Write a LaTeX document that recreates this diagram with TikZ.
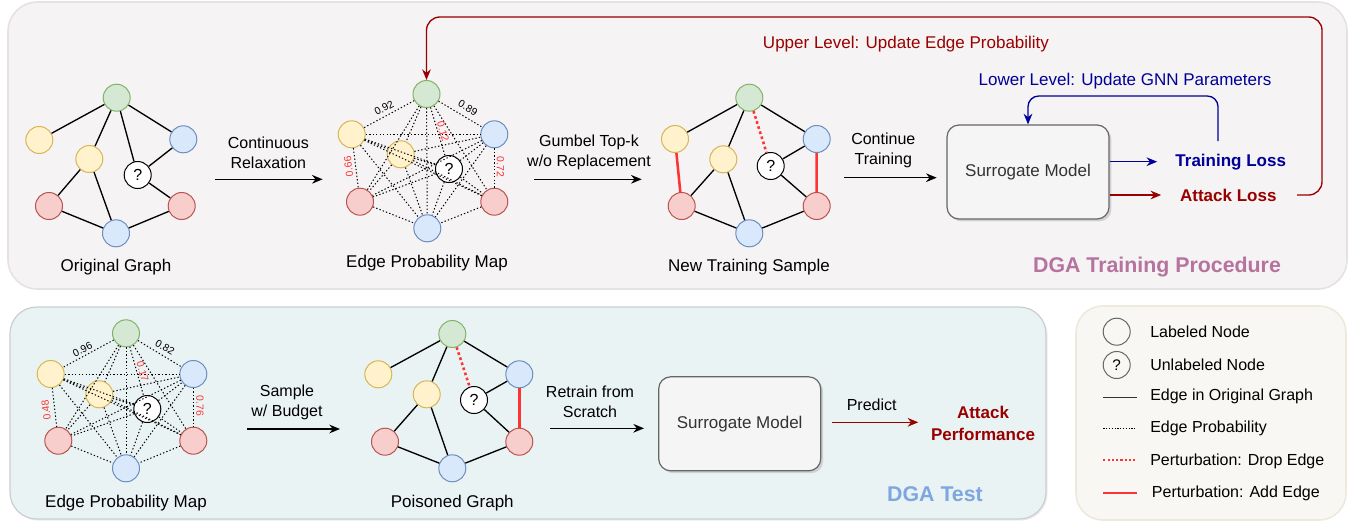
\documentclass[tikz,border=0pt]{standalone}
\usepackage{fontspec}
\setmainfont{Liberation Sans}
\usetikzlibrary{arrows.meta,shadows}
\definecolor{gfill}{HTML}{D5E8D4}\definecolor{gdraw}{HTML}{82B366}
\definecolor{yfill}{HTML}{FFF2CC}\definecolor{ydraw}{HTML}{D6B656}
\definecolor{rfill}{HTML}{F8CECC}\definecolor{rdraw}{HTML}{B85450}
\definecolor{bfill}{HTML}{DAE8FC}\definecolor{bdraw}{HTML}{6C8EBF}
\definecolor{darkred}{HTML}{990000}\definecolor{darkblue}{HTML}{000099}
\definecolor{pertred}{HTML}{FF3333}
\definecolor{topbg}{HTML}{F5F3F4}\definecolor{topbd}{HTML}{E6E1E4}
\definecolor{botbg}{HTML}{EAF3F4}\definecolor{botbd}{HTML}{C9CFD0}
\definecolor{legbg}{HTML}{F8F7F3}\definecolor{legbd}{HTML}{EEE9DC}
\definecolor{boxbg}{HTML}{F5F5F5}\definecolor{boxbd}{HTML}{666666}
\definecolor{dgapink}{HTML}{B5739D}\definecolor{dgablue}{HTML}{7EA6E0}
\definecolor{txtgrey}{HTML}{333333}
\begin{document}
\begin{tikzpicture}[x=0.75pt,y=-0.75pt,
  vtx/.style={circle,minimum size=20.25pt,inner sep=0pt,line width=0.75pt},
  gv/.style={vtx,fill=gfill,draw=gdraw},
  yv/.style={vtx,fill=yfill,draw=ydraw},
  rv/.style={vtx,fill=rfill,draw=rdraw},
  bv/.style={vtx,fill=bfill,draw=bdraw},
  qv/.style={vtx,fill=white,draw=black,font=\fontsize{12}{14}\selectfont},
  oe/.style={line width=1pt,black},
  probedge/.style={line width=0.75pt,dash pattern=on 1pt off 1.6pt},
  adde/.style={line width=1.9pt,pertred},
  drope/.style={line width=1.9pt,pertred,dash pattern=on 2pt off 2pt},
  arr/.style={line width=1pt,-{Stealth[length=8pt,width=6.5pt]}},
  redarr/.style={line width=1pt,darkred,-{Stealth[length=8pt,width=6.5pt]}},
  bluearr/.style={line width=1pt,darkblue,-{Stealth[length=8pt,width=6.5pt]}},
  txt/.style={font=\fontsize{12}{15}\selectfont,align=center},
  lbl/.style={font=\fontsize{12.75}{15}\selectfont},
  legt/.style={font=\fontsize{12}{14}\selectfont,anchor=west,inner sep=0pt},
  prob/.style={font=\fontsize{7.8}{9}\selectfont,inner sep=0.5pt},
  sbox/.style={rectangle,rounded corners=9pt,fill=boxbg,draw=boxbd,line width=0.9pt,
    text=txtgrey,font=\fontsize{12.75}{15}\selectfont,minimum width=121.5pt,minimum height=70.5pt,
    drop shadow={shadow xshift=1.8pt,shadow yshift=-1.8pt,fill=black!30}},
  lossb/.style={font=\fontsize{12.75}{15}\bfseries,inner sep=0pt},
]
\useasboundingbox (0,0) rectangle (1355,525);
% containers
\draw[fill=topbg,draw=topbd,line width=1.2pt,rounded corners=22pt] (8,2) rectangle (1347,289);
\draw[fill=botbg,draw=botbd,line width=0.9pt,rounded corners=20pt,
  drop shadow={shadow xshift=1.2pt,shadow yshift=-1.2pt,fill=black!15}] (10,307) rectangle (1046,519);
\draw[fill=legbg,draw=legbd,line width=1.2pt,rounded corners=20pt] (1076,306) rectangle (1346,520);

% ---------- Graph 1: Original Graph
\node[gv] (a-g) at (116.7,97.7) {};
\node[yv] (a-yl) at (39.3,140) {};
\node[yv] (a-yi) at (89.3,159) {};
\node[qv] (a-q) at (137.7,175) {?};
\node[bv] (a-br) at (183.3,139.3) {};
\node[rv] (a-rl) at (49,206) {};
\node[rv] (a-rr) at (181.7,206) {};
\node[bv] (a-bb) at (116,233.3) {};
\node[lbl] (a-t) at (116,266.7) {Original Graph};
\draw[oe] (a-g)--(a-yl) (a-g)--(a-yi) (a-g)--(a-q) (a-g)--(a-br) (a-br)--(a-q) (a-q)--(a-rr)
  (a-yi)--(a-rl) (a-yi)--(a-bb) (a-rl)--(a-bb) (a-bb)--(a-rr);

% ---------- Graph 2: Edge Probability Map (top)
\node[gv] (b-g) at (426.5,94) {};
\node[yv] (b-yl) at (351.7,134.3) {};
\node[yv] (b-yi) at (400.7,154.3) {};
\node[qv] (b-q) at (449,169) {?};
\node[bv] (b-br) at (494.3,134.3) {};
\node[rv] (b-rl) at (360,201.7) {};
\node[rv] (b-rr) at (494.3,201.7) {};
\node[bv] (b-bb) at (427.3,228.3) {};
\node[lbl] (b-t) at (427,263) {Edge Probability Map};
\foreach \u/\v in {g/yl,g/yi,g/q,g/br,g/rl,g/rr,g/bb,yl/yi,yl/q,yl/br,yl/rl,yl/rr,yl/bb,yi/q,yi/br,yi/rl,yi/rr,yi/bb,q/br,q/rl,q/rr,q/bb,br/rl,br/rr,br/bb,rl/bb,rr/bb}
  \draw[probedge] (b-\u) -- (b-\v);
\node[prob,rotate=28] (b-l1) at (384,108) {0.92};
\node[prob,rotate=-31] (b-l2) at (468,108) {0.89};
\node[prob,rotate=-74,text=pertred] (b-l3) at (443,131.7) {0.12};
\node[prob,rotate=97,text=pertred] (b-l4) at (348.5,166.7) {0.66};
\node[prob,rotate=-90,text=pertred] (b-l5) at (500.5,166.7) {0.72};

% ---------- Graph 3: New Training Sample
\node[gv] (c-g) at (749.3,97.7) {};
\node[yv] (c-yl) at (675,139) {};
\node[yv] (c-yi) at (723.3,159.3) {};
\node[qv] (c-q) at (770.7,166) {?};
\node[bv] (c-br) at (816.7,139) {};
\node[rv] (c-rl) at (681.7,206) {};
\node[rv] (c-rr) at (816.7,206) {};
\node[bv] (c-bb) at (749.3,233.3) {};
\node[lbl] (c-t) at (749,266.7) {New Training Sample};
\draw[oe] (c-g)--(c-yl) (c-g)--(c-yi) (c-g)--(c-br) (c-br)--(c-q) (c-q)--(c-rr)
  (c-yi)--(c-rl) (c-yi)--(c-bb) (c-rl)--(c-bb) (c-bb)--(c-rr);
\draw[drope] (c-g)--(c-q);
\draw[adde] (c-br)--(c-rr) (c-yl)--(c-rl);

% ---------- top arrows
\coordinate (r1a) at (215,179.3); \coordinate (r1b) at (322.7,179.3);
\draw[arr] (r1a)--(r1b);
\node[txt] (r1t) at (268.3,152.7) {Continuous\\Relaxation};
\coordinate (r2a) at (534,179.3); \coordinate (r2b) at (641.7,179.3);
\draw[arr] (r2a)--(r2b);
\node[txt] (r2t) at (589,152.7) {Gumbel Top-k\\w/o Replacement};
\coordinate (r3a) at (844,177.7); \coordinate (r3b) at (936.7,177.7);
\draw[arr] (r3a)--(r3b);
\node[txt] (r3t) at (883.3,150) {Continue\\Training};

% ---------- surrogate (top)
\node[sbox] (surr1) at (1028,172) {Surrogate Model};
\node[lossb,text=darkblue] (tl) at (1230.7,161.7) {Training Loss};
\node[lossb,text=darkred] (al) at (1228.3,195) {Attack Loss};
\draw[bluearr] (surr1.east |- tl) -- ([xshift=-13.5pt]tl.west);
\draw[redarr] (surr1.east |- al) -- ([xshift=-14pt]al.west);
\coordinate (bl0) at (1218,141); \coordinate (bl1) at (1218,96); \coordinate (bl2) at (1028,96);
\draw[bluearr,rounded corners=8pt] (bl0)--(bl1)--(bl2)--(surr1.north);
\node[lbl,text=darkblue] (lowl) at (1125,80.7) {Lower Level: Update GNN Parameters};
\coordinate (rl0) at (1297,195); \coordinate (rl1) at (1322,195);
\coordinate (rl2) at (1322,17); \coordinate (rl3) at (426.5,17);
\draw[redarr,rounded corners=10pt] (rl0)--(rl1)--(rl2)--(rl3)--(b-g.north);
\node[lbl,text=darkred] (upl) at (906,44) {Upper Level: Update Edge Probability};
\node[font=\fontsize{16}{19}\bfseries,text=dgapink] (dga1) at (1157,267) {DGA Training Procedure};

% ---------- Graph 4: Edge Probability Map (bottom)
\node[gv] (d-g) at (126,333.3) {};
\node[yv] (d-yl) at (50.7,374) {};
\node[yv] (d-yi) at (99.3,394.3) {};
\node[qv] (d-q) at (147.3,409) {?};
\node[bv] (d-br) at (193.3,374) {};
\node[rv] (d-rl) at (58.3,440.7) {};
\node[rv] (d-rr) at (193.3,440.7) {};
\node[bv] (d-bb) at (126,468.3) {};
\node[lbl] (d-t) at (126,502.7) {Edge Probability Map};
\foreach \u/\v in {g/yl,g/yi,g/q,g/br,g/rl,g/rr,g/bb,yl/yi,yl/q,yl/br,yl/rl,yl/rr,yl/bb,yi/q,yi/br,yi/rl,yi/rr,yi/bb,q/br,q/rl,q/rr,q/bb,br/rl,br/rr,br/bb,rl/bb,rr/bb}
  \draw[probedge] (d-\u) -- (d-\v);
\node[prob,rotate=28] (d-l1) at (82.5,349.5) {0.96};
\node[prob,rotate=-31] (d-l2) at (165,347.5) {0.82};
\node[prob,rotate=-74,text=pertred] (d-l3) at (142.5,371.7) {0.17};
\node[prob,rotate=97,text=pertred] (d-l4) at (46,410) {0.48};
\node[prob,rotate=-90,text=pertred] (d-l5) at (200,406) {0.76};

% ---------- Graph 5: Poisoned Graph
\node[gv] (e-g) at (452.3,334) {};
\node[yv] (e-yl) at (378.3,374.3) {};
\node[yv] (e-yi) at (426.7,394.3) {};
\node[qv] (e-q) at (474,400) {?};
\node[bv] (e-br) at (519.3,374.3) {};
\node[rv] (e-rl) at (385,441.7) {};
\node[rv] (e-rr) at (519.3,441.7) {};
\node[bv] (e-bb) at (452.3,468.3) {};
\node[lbl] (e-t) at (452.3,503.3) {Poisoned Graph};
\draw[oe] (e-g)--(e-yl) (e-g)--(e-yi) (e-g)--(e-br) (e-br)--(e-q) (e-q)--(e-rr)
  (e-yi)--(e-rl) (e-yi)--(e-bb) (e-rl)--(e-bb) (e-bb)--(e-rr);
\draw[drope] (e-g)--(e-q);
\draw[adde] (e-br)--(e-rr);

% ---------- bottom arrows
\coordinate (s1a) at (247,429); \coordinate (s1b) at (340,429);
\draw[arr] (s1a)--(s1b);
\node[txt] (s1t) at (287,402) {Sample\\w/ Budget};
\coordinate (s2a) at (550,428.3); \coordinate (s2b) at (644,428.3);
\draw[arr] (s2a)--(s2b);
\node[txt] (s2t) at (590,401.7) {Retrain from\\Scratch};
\node[sbox] (surr2) at (739.7,423.8) {Surrogate Model};
\coordinate (p1a) at (832.3,422.3); \coordinate (p1b) at (918.3,422.3);
\draw[redarr] (p1a)--(p1b);
\node[txt] (p1t) at (871.7,404.3) {Predict};
\node[font=\fontsize{12.75}{16.5}\bfseries,text=darkred,align=center] (ap) at (983,423) {Attack\\Performance};
\node[font=\fontsize{16}{19}\bfseries,text=dgablue] (dga2) at (935,494) {DGA Test};

% ---------- legend
\node[vtx,draw=boxbd] (lg1) at (1116.7,331.7) {};
\node[vtx,draw=boxbd,font=\fontsize{11.5}{13}\selectfont] (lg2) at (1116.7,365) {?};
\coordinate (lg3a) at (1103.3,397.5); \coordinate (lg3b) at (1136.7,397.5);
\draw[line width=1.1pt,txtgrey] (lg3a)--(lg3b);
\coordinate (lg4a) at (1103.3,428.3); \coordinate (lg4b) at (1136.7,428.3);
\draw[line width=0.7pt,dash pattern=on 0.9pt off 1.2pt] (lg4a)--(lg4b);
\coordinate (lg5a) at (1103.3,460); \coordinate (lg5b) at (1136.7,460);
\draw[line width=1.6pt,pertred,dash pattern=on 1.6pt off 1.6pt] (lg5a)--(lg5b);
\coordinate (lg6a) at (1103.3,492.7); \coordinate (lg6b) at (1136.7,492.7);
\draw[line width=1.6pt,pertred] (lg6a)--(lg6b);
\node[legt] (lt1) at (1150,331.7) {Labeled Node};
\node[legt] (lt2) at (1150,365) {Unlabeled Node};
\node[legt] (lt3) at (1150,396.7) {Edge in Original Graph};
\node[legt] (lt4) at (1150,428.3) {Edge Probability};
\node[legt] (lt5) at (1150,461.7) {Perturbation: Drop Edge};
\node[legt] (lt6) at (1151.7,493.3) {Perturbation: Add Edge};
\end{tikzpicture}
\end{document}
